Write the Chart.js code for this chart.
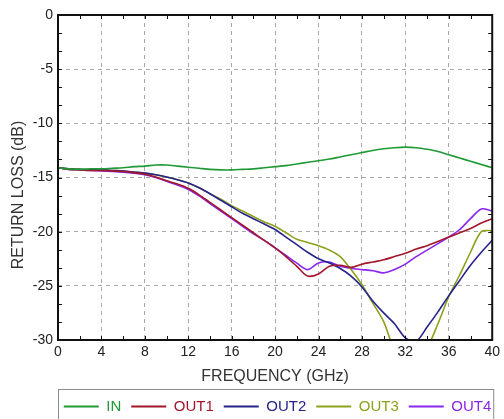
<!DOCTYPE html>
<html>
<head>
<meta charset="utf-8">
<script src="https://cdn.jsdelivr.net/npm/chart.js@4.4.1/dist/chart.umd.min.js"></script>
<style>
  html, body { margin: 0; padding: 0; background: #fff; }
  #wrap { width: 504px; height: 419px; position: relative; }
</style>
</head>
<body>
<div id="wrap"><canvas id="rl"></canvas></div>
<script>
// frequency in GHz, return loss in dB (1 GHz steps)
const freq = [0,1,2,3,4,5,6,7,8,9,10,11,12,13,14,15,16,17,18,19,20,
  21,22,23,24,25,26,27,28,29,30,31,32,33,34,35,36,37,38,39,40];

const inLoss = [-14.1,-14.2,-14.25,-14.2,-14.2,-14.15,-14.1,-14.0,-13.95,-13.85,-13.85,
  -13.95,-14.05,-14.15,-14.25,-14.3,-14.3,-14.25,-14.2,-14.1,-14.0,
  -13.9,-13.75,-13.6,-13.45,-13.3,-13.1,-12.9,-12.7,-12.5,-12.35,
  -12.25,-12.2,-12.25,-12.4,-12.6,-12.9,-13.2,-13.5,-13.8,-14.1];

const out1 = [-14.1,-14.25,-14.3,-14.35,-14.35,-14.4,-14.45,-14.55,-14.7,-14.95,-15.3,
  -15.6,-16.0,-16.6,-17.3,-18.0,-18.7,-19.4,-20.1,-20.8,-21.5,
  -22.3,-23.2,-24.1,-23.9,-23.2,-23.1,-23.3,-23.0,-22.8,-22.6,
  -22.3,-22.0,-21.6,-21.3,-20.9,-20.5,-20.1,-19.7,-19.2,-18.8];

const out2 = [-14.1,-14.2,-14.25,-14.3,-14.3,-14.35,-14.4,-14.5,-14.6,-14.75,-14.95,
  -15.2,-15.5,-15.95,-16.5,-17.1,-17.7,-18.3,-18.8,-19.3,-19.8,
  -20.5,-21.2,-21.9,-22.5,-22.9,-23.4,-24.1,-25.1,-26.4,-27.5,
  -28.5,-29.8,-30.1,-28.8,-27.4,-25.9,-24.5,-23.1,-21.9,-20.8];

const out3 = [-14.1,-14.2,-14.25,-14.3,-14.3,-14.35,-14.4,-14.5,-14.6,-14.75,-14.95,
  -15.2,-15.5,-15.95,-16.5,-17.0,-17.6,-18.1,-18.6,-19.1,-19.5,
  -20.1,-20.7,-21.0,-21.3,-21.7,-22.3,-23.5,-24.9,-26.6,-28.3,
  -31.0,-32.5,-32.3,-30.8,-28.5,-26.0,-24.0,-21.9,-20.0,-19.9];

const out4 = [-14.1,-14.25,-14.3,-14.35,-14.4,-14.45,-14.5,-14.6,-14.75,-15.0,-15.35,
  -15.7,-16.1,-16.7,-17.4,-18.1,-18.8,-19.5,-20.2,-20.8,-21.5,
  -22.2,-22.9,-23.5,-22.9,-22.8,-23.2,-23.4,-23.5,-23.6,-23.8,
  -23.5,-23.0,-22.3,-21.7,-21.1,-20.5,-19.8,-18.8,-17.9,-18.1];

const names = ['IN', 'OUT1', 'OUT2', 'OUT3', 'OUT4'];
const colors = ['#1f9a35', '#a3162b', '#26238c', '#8ea11d', '#8a26ee'];
const series = [inLoss, out1, out2, out3, out4];

function pts(ys) {
  return ys.map((y, i) => ({ x: freq[i], y: y }));
}

// frame, minor ticks, y title and legend box
const framePlugin = {
  id: 'frame',
  afterLayout(chart) {
    const l = chart.legend;
    // shift the legend row so it is centred under the plot
    l.left = 51;
    l.right = 504;
    l.width = l.right - l.left;
    l.top = 389;
  },
  afterDatasetsDraw(chart) {
    const {ctx, chartArea: a, scales} = chart;
    ctx.save();
    ctx.strokeStyle = '#111';
    ctx.lineWidth = 1;
    ctx.beginPath();
    for (let f = 2; f < 40; f += 2) {
      const x = Math.round(scales.x.getPixelForValue(f)) + 0.5;
      ctx.moveTo(x, a.bottom); ctx.lineTo(x, a.bottom - 4);
      ctx.moveTo(x, a.top); ctx.lineTo(x, a.top + 4);
    }
    for (let k = 1; k < 18; k++) {
      const y = Math.round(scales.y.getPixelForValue(-k * 5 / 3)) + 0.5;
      ctx.moveTo(a.left, y); ctx.lineTo(a.left + 4, y);
      ctx.moveTo(a.right, y); ctx.lineTo(a.right - 4, y);
    }
    ctx.stroke();
    ctx.lineWidth = 2;
    ctx.strokeRect(a.left, a.top, a.right - a.left, a.bottom - a.top);
    ctx.restore();
  },
  afterDraw(chart) {
    const {ctx, chartArea: a} = chart;
    ctx.save();
    ctx.strokeStyle = '#8c8c8c';
    ctx.lineWidth = 1;
    ctx.strokeRect(a.left + 0.5, 389.5, a.right - a.left + 1, 40);
    ctx.translate(19, 195);
    ctx.rotate(-Math.PI / 2);
    ctx.fillStyle = '#333';
    ctx.font = '16px "Liberation Sans"';
    ctx.textAlign = 'center';
    ctx.textBaseline = 'middle';
    ctx.fillText('RETURN LOSS (dB)', 0, 0);
    ctx.restore();
  }
};

new Chart(document.getElementById('rl'), {
  type: 'line',
  data: {
    datasets: series.map((s, i) => ({
      label: names[i],
      data: pts(s),
      borderColor: colors[i],
      backgroundColor: colors[i],
      borderWidth: 1.6,
      pointRadius: 0,
      tension: 0.3,
      fill: false
    }))
  },
  options: {
    responsive: true,
    maintainAspectRatio: false,
    animation: false,
    layout: { padding: { top: 15, right: 9, left: 0, bottom: 0 } },
    plugins: {
      tooltip: { enabled: false },
      legend: {
        position: 'bottom',
        labels: {
          boxWidth: 35,
          boxHeight: 2,
          padding: 10,
          font: { family: 'Liberation Sans', size: 15 },
          generateLabels(chart) {
            const items = Chart.defaults.plugins.legend.labels.generateLabels(chart);
            items.forEach(it => { it.fontColor = colors[it.datasetIndex]; it.lineWidth = 0; });
            return items;
          }
        }
      }
    },
    scales: {
      x: {
        type: 'linear',
        min: 0, max: 40,
        afterFit(s) { s.height = 44; },
        ticks: { stepSize: 4, padding: 4, color: '#222', font: { family: 'Liberation Sans', size: 14 } },
        grid: { drawTicks: false, color: '#a8a8a8' },
        border: { display: false, dash: [4, 4] },
        title: { display: true, text: 'FREQUENCY (GHz)', color: '#333', padding: { top: 0, bottom: -2 },
          font: { family: 'Liberation Sans', size: 16 } }
      },
      y: {
        min: -30, max: 0,
        afterFit(s) { s.width = 58; },
        ticks: { stepSize: 5, padding: 5, color: '#222', font: { family: 'Liberation Sans', size: 14 } },
        grid: { drawTicks: false, color: '#a8a8a8' },
        border: { display: false, dash: [4, 4] }
      }
    }
  },
  plugins: [framePlugin]
});
</script>
</body>
</html>
